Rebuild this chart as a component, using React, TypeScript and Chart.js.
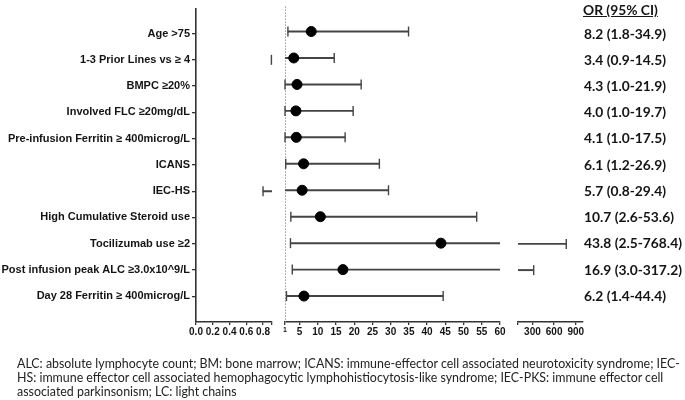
import React, { useEffect, useRef } from 'react';
import { Chart, registerables } from 'chart.js';

Chart.register(...registerables);

// ---------- data ----------
const categories = [
  'Age >75',
  '1-3 Prior Lines vs ≥ 4',
  'BMPC ≥20%',
  'Involved FLC ≥20mg/dL',
  'Pre-infusion Ferritin ≥ 400microg/L',
  'ICANS',
  'IEC-HS',
  'High Cumulative Steroid use',
  'Tocilizumab use ≥2',
  'Post infusion peak ALC ≥3.0x10^9/L',
  'Day 28 Ferritin ≥ 400microg/L',
];
const oddsRatios = [8.2, 3.4, 4.3, 4.0, 4.1, 6.1, 5.7, 10.7, 43.8, 16.9, 6.2];
const ciLower = [1.8, 0.9, 1.0, 1.0, 1.0, 1.2, 0.8, 2.6, 2.5, 3.0, 1.4];
const ciUpper = [34.9, 14.5, 21.9, 19.7, 17.5, 26.9, 29.4, 53.6, 768.4, 317.2, 44.4];
const orLabels = [
  '8.2 (1.8-34.9)',
  '3.4 (0.9-14.5)',
  '4.3 (1.0-21.9)',
  '4.0 (1.0-19.7)',
  '4.1 (1.0-17.5)',
  '6.1 (1.2-26.9)',
  '5.7 (0.8-29.4)',
  '10.7 (2.6-53.6)',
  '43.8 (2.5-768.4)',
  '16.9 (3.0-317.2)',
  '6.2 (1.4-44.4)',
];
const orHeader = 'OR (95% CI)';

// broken x axis: three segments
const segMins = [0, 1, 100];
const segMaxs = [0.907, 60, 1000];
const seg1Ticks = [0, 0.2, 0.4, 0.6, 0.8];
const seg2Ticks = [1, 5, 10, 15, 20, 25, 30, 35, 40, 45, 50, 55, 60];
const seg3Ticks = [300, 600, 900];
const seg1TickLabels = ['0.0', '0.2', '0.4', '0.6', '0.8'];
const seg2TickLabels = ['1', '5', '10', '15', '20', '25', '30', '35', '40', '45', '50', '55', '60'];
const seg3TickLabels = ['300', '600', '900'];
const referenceOR = 1;

const footerLines = [
  'ALC: absolute lymphocyte count; BM: bone marrow; ICANS: immune-effector cell associated neurotoxicity syndrome; IEC-',
  'HS: immune effector cell associated hemophagocytic lymphohistiocytosis-like syndrome; IEC-PKS: immune effector cell',
  'associated parkinsonism; LC: light chains',
];

// ---------- layout / style ----------
const CANVAS_W = 685;
const CANVAS_H = 346;
const X_AXIS_H = 24;
const TOP_PAD = 5;
const AREAS = [
  [196, 272],
  [285, 500],
  [518, 583],
];
const ROW_MIN = -0.95;
const ROW_MAX = 10.98;
const LINE = '#444444';
const INK = '#141414';
const ARIAL = "'Liberation Sans', Arial, sans-serif";
const CAL = "Lato, 'Noto Sans', sans-serif";

const refLinePlugin = {
  id: 'refLine',
  beforeDatasetsDraw(chart: any) {
    const { ctx, chartArea, scales } = chart;
    const x = Math.round(scales.x.getPixelForValue(referenceOR)) + 0.5;
    ctx.save();
    ctx.strokeStyle = '#9c9c9c';
    ctx.lineWidth = 1;
    ctx.setLineDash([1.5, 1.5]);
    ctx.beginPath();
    ctx.moveTo(x, chartArea.top);
    ctx.lineTo(x, chartArea.bottom);
    ctx.stroke();
    ctx.restore();
  },
};

function buildConfig(seg: number): any {
  const min = segMins[seg];
  const max = segMaxs[seg];
  const tickVals = [seg1Ticks, seg2Ticks, seg3Ticks][seg];
  const tickLabs = [seg1TickLabels, seg2TickLabels, seg3TickLabels][seg];
  const breakTicks = seg === 0 ? [max] : seg === 2 ? [min] : [];
  const allTicks = [...tickVals, ...breakTicks].sort((a, b) => a - b);
  const inRange = (v: number) => v >= min && v <= max;
  const rows = categories.map((_, i) => i);

  const ciData = rows.map((i) => ({ x: [ciLower[i], ciUpper[i]], y: i }));
  const capData: { x: number; y: number }[] = [];
  rows.forEach((i) => {
    [ciLower[i], ciUpper[i]].forEach((v) => {
      if (inRange(v)) capData.push({ x: v, y: i });
    });
  });
  const orData = rows.filter((i) => inRange(oddsRatios[i])).map((i) => ({ x: oddsRatios[i], y: i }));

  const [areaL, areaR] = AREAS[seg];

  let yScale: any;
  if (seg === 0) {
    yScale = {
      type: 'linear',
      position: 'left',
      reverse: true,
      offset: false,
      min: ROW_MIN,
      max: ROW_MAX,
      afterBuildTicks: (s: any) => {
        s.ticks = rows.map((i) => ({ value: i }));
      },
      afterFit: (s: any) => {
        s.width = areaL;
      },
      ticks: {
        autoSkip: false,
        padding: 2,
        color: INK,
        font: { family: ARIAL, weight: 'bold', size: 11 },
        callback: (v: number) => categories[v] ?? '',
      },
      grid: { offset: false, drawOnChartArea: false, drawTicks: true, tickLength: 4, color: '#333', lineWidth: 1.3 },
      border: { display: true, color: '#333', width: 1.6 },
    };
  } else if (seg === 2) {
    yScale = {
      type: 'linear',
      position: 'right',
      reverse: true,
      offset: false,
      min: ROW_MIN,
      max: ROW_MAX,
      afterBuildTicks: (s: any) => {
        s.ticks = rows.map((i) => ({ value: i }));
      },
      afterFit: (s: any) => {
        s.width = CANVAS_W - areaR;
      },
      ticks: {
        autoSkip: false,
        padding: 1,
        color: INK,
        font: { family: CAL, weight: 'bold', size: 13.8 },
        callback: (v: number) => orLabels[v] ?? '',
      },
      grid: { offset: false, display: false, drawTicks: false, drawOnChartArea: false },
      border: { display: false },
    };
  } else {
    yScale = {
      type: 'linear',
      display: false,
      reverse: true,
      offset: false,
      grid: { offset: false },
      min: ROW_MIN,
      max: ROW_MAX,
    };
  }

  return {
    type: 'bar',
    data: {
      datasets: [
        {
          type: 'scatter',
          label: 'OR',
          data: orData,
          pointRadius: 5,
          pointBackgroundColor: '#000',
          pointBorderColor: '#000',
          pointBorderWidth: 1,
          clip: false,
        },
        {
          type: 'scatter',
          label: 'CI caps',
          data: capData,
          pointStyle: 'line',
          rotation: 90,
          pointRadius: 5,
          pointBorderColor: LINE,
          borderColor: LINE,
          pointBorderWidth: 1.4,
          clip: false,
        },
        {
          type: 'bar',
          label: '95% CI',
          data: ciData,
          backgroundColor: LINE,
          borderWidth: 0,
          barThickness: 1.3,
          clip: { left: 0, right: 0, top: false, bottom: false },
        },
      ],
    },
    options: {
      indexAxis: 'y',
      responsive: false,
      animation: false,
      events: [],
      layout: {
        padding: {
          left: seg === 0 ? 0 : areaL,
          right: seg === 2 ? 0 : CANVAS_W - areaR,
          top: TOP_PAD,
          bottom: 0,
        },
      },
      plugins: { legend: { display: false }, tooltip: { enabled: false } },
      scales: {
        x: {
          type: 'linear',
          position: 'bottom',
          min,
          max,
          offset: false,
          afterBuildTicks: (s: any) => {
            s.ticks = allTicks.map((v) => ({ value: v }));
          },
          afterFit: (s: any) => {
            s.height = X_AXIS_H;
          },
          ticks: {
            autoSkip: false,
            maxRotation: 0,
            minRotation: 0,
            padding: 1,
            color: INK,
            font: (ctx: any) => ({
              family: ARIAL,
              weight: 'bold',
              size: ctx.tick && ctx.tick.value === 1 && seg === 1 ? 7 : 10,
            }),
            callback: (v: number) => {
              const idx = tickVals.indexOf(v);
              return idx >= 0 ? tickLabs[idx] : '';
            },
          },
          grid: { drawOnChartArea: false, drawTicks: true, tickLength: 3, color: '#333', lineWidth: 1.3 },
          border: { display: true, color: '#333', width: 1.6 },
        },
        y: yScale,
      },
    },
    plugins: seg === 1 ? [refLinePlugin] : [],
  };
}

function Segment({ seg }: { seg: number }) {
  const ref = useRef<HTMLCanvasElement | null>(null);
  useEffect(() => {
    if (!ref.current) return;
    const chart = new Chart(ref.current, buildConfig(seg));
    return () => chart.destroy();
  }, [seg]);
  return (
    <canvas
      ref={ref}
      width={CANVAS_W}
      height={CANVAS_H}
      style={{ position: 'absolute', left: 0, top: 0, width: CANVAS_W, height: CANVAS_H }}
    />
  );
}

export default function App() {
  return (
    <div
      style={{
        position: 'absolute',
        left: 0,
        top: 0,
        width: 685,
        height: 400,
        background: '#fff',
        overflow: 'hidden',
      }}
    >
      <Segment seg={0} />
      <Segment seg={1} />
      <Segment seg={2} />
      <div
        style={{
          position: 'absolute',
          left: 583,
          top: 2,
          fontFamily: CAL,
          fontWeight: 'bold',
          fontSize: 13.8,
          lineHeight: '15px',
          color: INK,
          textDecoration: 'underline',
          whiteSpace: 'nowrap',
        }}
      >
        {orHeader}
      </div>
      <div
        style={{
          position: 'absolute',
          left: 17,
          top: 356.5,
          fontFamily: CAL,
          fontSize: 12.4,
          lineHeight: '14.3px',
          color: '#222',
          whiteSpace: 'pre',
        }}
      >
        {footerLines.join('\n')}
      </div>
    </div>
  );
}
